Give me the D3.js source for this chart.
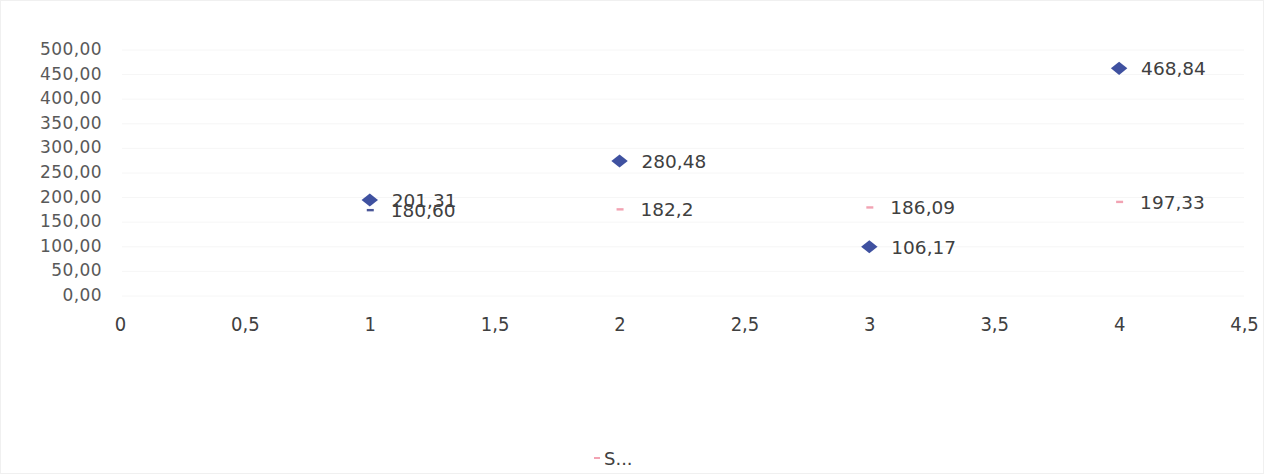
<!DOCTYPE html>
<html><head><meta charset="utf-8">
<script src="https://cdn.jsdelivr.net/npm/d3@7/dist/d3.min.js"></script>
<style>body{margin:0;background:#fff;}svg{display:block;}</style>
</head><body><svg id="c" width="1264" height="474"></svg>
<script>
const xValues = [1, 2, 3, 4];
const series1 = [201.31, 280.48, 106.17, 468.84];
const series1Labels = ["201,31", "280,48", "106,17", "468,84"];
const series2 = [180.60, 182.2, 186.09, 197.33];
const series2Labels = ["180,60", "182,2", "186,09", "197,33"];
const yTicks = [0, 50, 100, 150, 200, 250, 300, 350, 400, 450, 500];
const yTickLabels = ["0,00","50,00","100,00","150,00","200,00","250,00","300,00","350,00","400,00","450,00","500,00"];
const xTicks = [0, 0.5, 1, 1.5, 2, 2.5, 3, 3.5, 4, 4.5];
const xTickLabels = ["0","0,5","1","1,5","2","2,5","3","3,5","4","4,5"];
const legendLabel = "S...";

const svg = d3.select("#c");
svg.append("rect").attr("x",0.5).attr("y",0.5).attr("width",1263).attr("height",473)
  .attr("fill","#fff").attr("stroke","#f0f0f0");

const x = d3.scaleLinear().domain([0, 4.5]).range([120, 1244]);
const y = d3.scaleLinear().domain([0, 500]).range([299, 53]);

// gridlines
svg.append("g").selectAll("line").data(yTicks).join("line")
  .attr("x1", 122).attr("x2", 1244)
  .attr("y1", d => y(d)-3).attr("y2", d => y(d)-3)
  .attr("stroke", "#f6f6f6").attr("stroke-width", 1);

// y axis labels
const yAxis = d3.axisLeft(y).tickValues(yTicks).tickFormat((d,i)=>yTickLabels[i]).tickSize(0).tickPadding(0);
const gy = svg.append("g").attr("transform","translate(102,-4)").call(yAxis);
gy.select(".domain").remove();
gy.selectAll("text").attr("font-family","DejaVu Sans").attr("font-size","17px").attr("letter-spacing","0.4px").attr("fill","#595959");

// x axis labels
const xAxis = d3.axisBottom(x).tickValues(xTicks).tickFormat((d,i)=>xTickLabels[i]).tickSize(0).tickPadding(0);
const gx = svg.append("g").attr("transform","translate(0,317)").call(xAxis);
gx.select(".domain").remove();
gx.selectAll("text").attr("font-family","DejaVu Sans Condensed").attr("font-size","20px").attr("fill","#404040");

const d1 = xValues.map((v,i)=>({x:v,y:series1[i],l:series1Labels[i]}));
const d2 = xValues.map((v,i)=>({x:v,y:series2[i],l:series2Labels[i]}));

// series 2 (dash markers)
svg.append("g").selectAll("rect").data(d2).join("rect")
  .attr("x", d => x(d.x)-3).attr("y", d => y(d.y)-1.2)
  .attr("width", 7).attr("height", 2.4)
  .attr("fill", (d,i)=> i===0 ? "#4a5698" : "#f2a3b3");
svg.append("g").selectAll("text").data(d2).join("text")
  .attr("x", d => x(d.x)+21).attr("y", d => y(d.y)+7)
  .attr("font-family","DejaVu Sans").attr("font-size","18.5px").attr("fill","#404040")
  .text(d => d.l);

// series 1 (diamonds)
const sym = d3.symbol().type(d3.symbolDiamond2).size(110);
svg.append("g").selectAll("path").data(d1).join("path")
  .attr("d", sym)
  .attr("transform", d => `translate(${x(d.x)},${y(d.y)}) scale(1.25,1)`)
  .attr("fill","#3f51a0");
svg.append("g").selectAll("text").data(d1).join("text")
  .attr("x", d => x(d.x)+22).attr("y", d => y(d.y)+7)
  .attr("font-family","DejaVu Sans").attr("font-size","18.5px").attr("fill","#404040")
  .text(d => d.l);

// legend
const lg = svg.append("g").attr("transform","translate(594,458)");
lg.append("rect").attr("x",0).attr("y",-1).attr("width",6).attr("height",2).attr("fill","#f2a3b3");
lg.append("text").attr("x",10).attr("y",7).attr("font-family","DejaVu Sans").attr("font-size","18px").attr("fill","#404040").text(legendLabel);
</script></body></html>
